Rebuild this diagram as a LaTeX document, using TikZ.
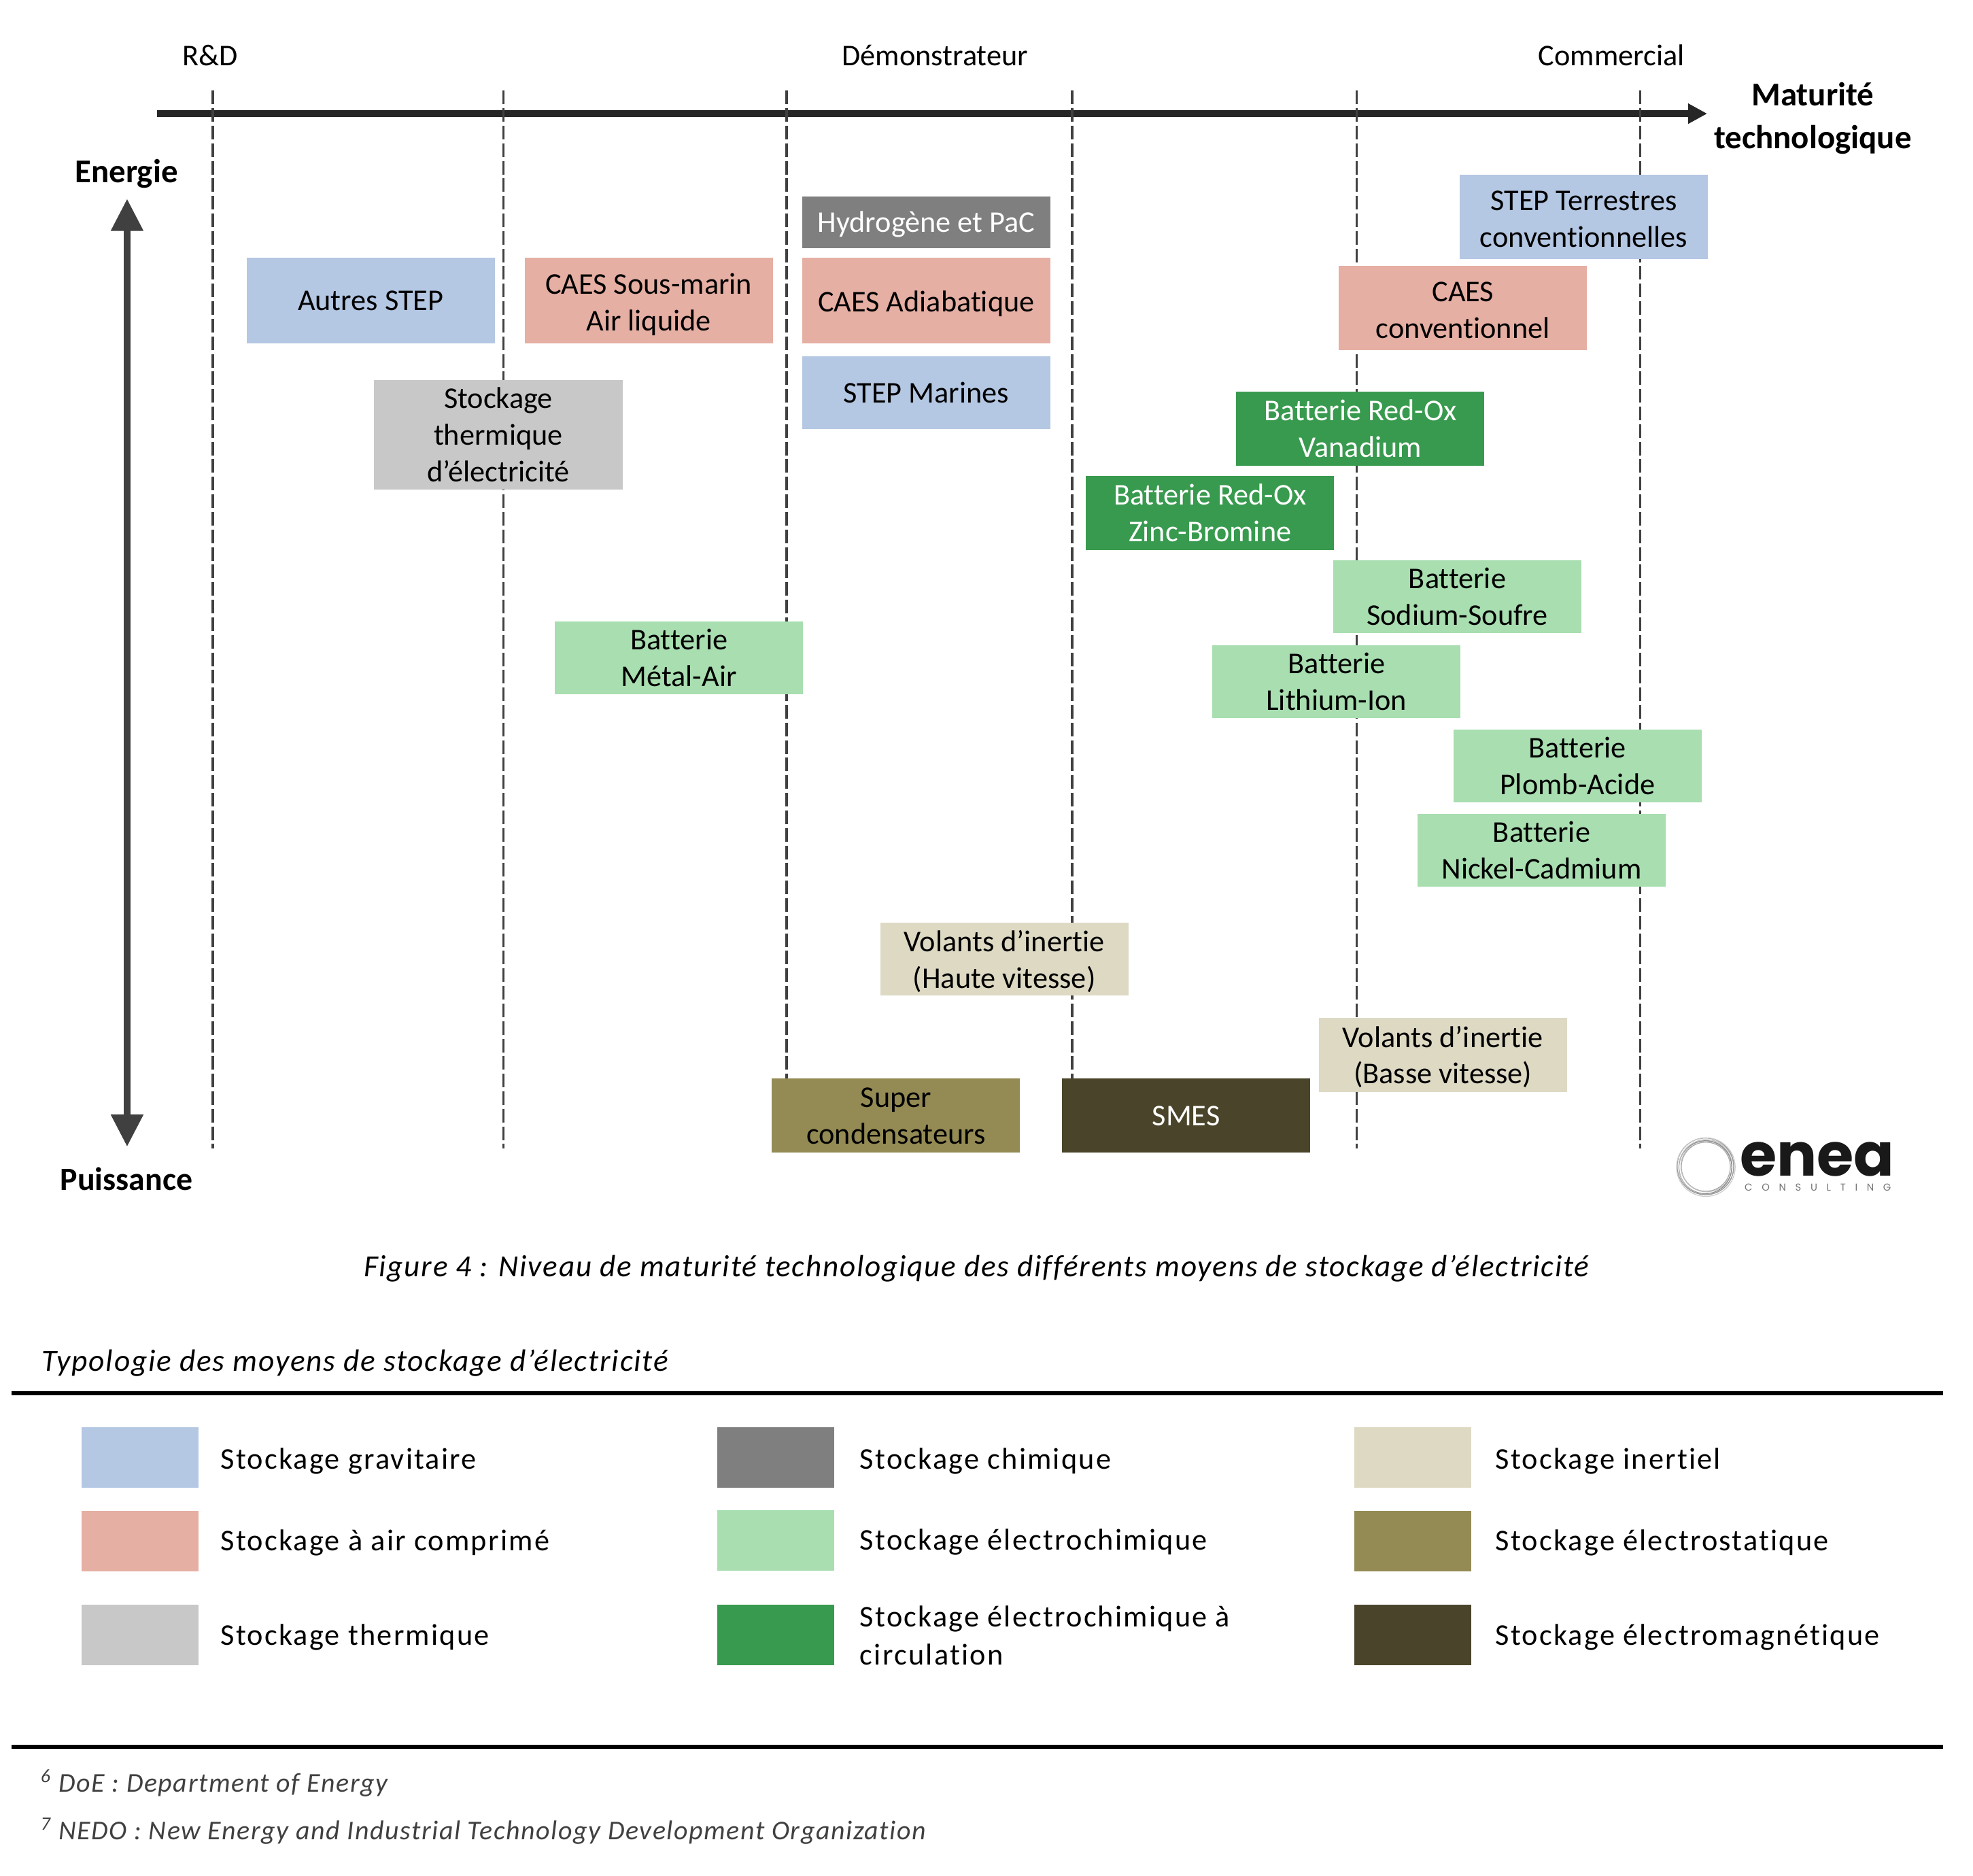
\documentclass[tikz,border=0pt]{standalone}
\usepackage{fontspec}
\setmainfont[RawFeature={-liga;-clig;-calt;-ccmp}]{Carlito}
\newfontfamily\legendfont[LetterSpace=5,RawFeature={-liga;-clig;-calt;-ccmp}]{Carlito}
\newfontfamily\notefont[LetterSpace=4,RawFeature={-liga;-clig;-calt;-ccmp}]{Carlito}
\newfontfamily\logofont{Poppins}
\usetikzlibrary{arrows.meta, positioning}

\definecolor{gravcol}{HTML}{B4C7E3}
\definecolor{aircol}{HTML}{E6AFA3}
\definecolor{thermcol}{HTML}{C8C8C8}
\definecolor{chemcol}{HTML}{7F7F7F}
\definecolor{elchcol}{HTML}{A8DEB0}
\definecolor{flowcol}{HTML}{389A4E}
\definecolor{inertcol}{HTML}{DDD9C3}
\definecolor{staticcol}{HTML}{948A54}
\definecolor{magncol}{HTML}{4A452A}

\newcommand{\lk}{\kern3.9pt}

\tikzset{
	techbox/.style={minimum width=3.65cm, inner sep=0pt, align=center, font=\fontsize{12.6}{15.3}\selectfont},
	textdrop/.style={execute at begin node={\rule{0pt}{#1}}},
	swatch/.style={minimum width=1.72cm, minimum height=.89cm, inner sep=0pt},
	legendtext/.style={anchor=west, inner sep=0pt, align=left, font=\legendfont\fontsize{12.6}{16}\selectfont},
	headtext/.style={font=\fontsize{12.6}{15.3}\selectfont, inner sep=0pt},
	axistext/.style={font=\fontsize{13.9}{17.8}\selectfont\bfseries, align=center, inner sep=0pt},
	notetext/.style={anchor=west, inner sep=0pt, text=black!75, font=\notefont\fontsize{11.35}{14}\selectfont\itshape},
	maturity/.style={dash pattern=on 5.69pt off 1.656pt, line width=1pt, color=black!75},
}

\begin{document}
\begin{tikzpicture}[x=0.01851cm, y=-0.01851cm]
	\useasboundingbox (0,0) rectangle (1567.8,1490.5);

	% Axes
	\coordinate (matstart) at (125,90.3);
	\coordinate (matend) at (1356.6,90.3);
	\coordinate (powtop) at (101,158);
	\coordinate (powbot) at (101,911);
	\draw[-{Triangle[length=8pt,width=8pt]}, line width=2.85pt, color=black!85] (matstart) -- (matend);
	\draw[{Triangle[length=13.4pt,width=13pt]}-{Triangle[length=13.4pt,width=13pt]}, line width=2.6pt, color=black!75] (powtop) -- (powbot);

	% Dashed columns
	\foreach \i/\xpos in {a/169, b/400, c/625, d/852, e/1078, f/1303.4} {
		\coordinate (top\i) at (\xpos,72);
		\coordinate (bot\i) at (\xpos,912.5);
		\draw[maturity] (top\i) -- (bot\i);
	}

	% Axis labels
	\node[headtext] (rd) at (167,44) {R\&D};
	\node[headtext] (demo) at (743,44) {Démonstrateur};
	\node[headtext] (comm) at (1280.5,44) {Commercial};
	\node[axistext] (matur) at (1440.5,94) {Maturité\\technologique};
	\node[axistext] (energie) at (100.5,138) {Energie};
	\node[axistext, font=\fontsize{13.6}{17.8}\selectfont\bfseries] (puissance) at (100.5,937) {Puissance};

	% Technologies
	\node[techbox, fill=gravcol, minimum height=1.24cm, textdrop=25.4pt] (stepterr) at (1258.5,172.5) {STEP Terrestres\\conventionnelles};
	\node[techbox, fill=chemcol, text=white, minimum height=.76cm, textdrop=10.5pt] (hydro) at (736,176.5) {Hydrogène et PaC};
	\node[techbox, fill=gravcol, minimum height=1.26cm] (autres) at (294.5,239) {Autres STEP};
	\node[techbox, fill=aircol, minimum height=1.26cm, textdrop=27pt] (caessous) at (515.5,239) {CAES Sous-marin\\Air liquide};
	\node[techbox, fill=aircol, minimum height=1.26cm, textdrop=11pt] (caesadia) at (736,239) {CAES Adiabatique};
	\node[techbox, fill=gravcol, minimum height=1.07cm] (stepmar) at (736,312) {STEP Marines};
	\node[techbox, fill=aircol, minimum height=1.24cm, textdrop=25.5pt] (caesconv) at (1162.5,244.5) {CAES\\conventionnel};
	\node[techbox, fill=thermcol, minimum height=1.61cm] (thermique) at (396,345.5) {Stockage\\thermique\\d’électricité};
	\node[techbox, fill=flowcol, text=white, minimum height=1.09cm] (vanadium) at (1081,340.5) {Batterie Red-Ox\\Vanadium};
	\node[techbox, fill=flowcol, text=white, minimum height=1.09cm] (zinc) at (961.5,407.5) {Batterie Red-Ox\\Zinc-Bromine};
	\node[techbox, fill=elchcol, minimum height=1.07cm] (sodium) at (1158,474) {Batterie\\Sodium-Soufre};
	\node[techbox, fill=elchcol, minimum height=1.07cm] (metal) at (539.5,522.5) {Batterie\\Métal-Air};
	\node[techbox, fill=elchcol, minimum height=1.07cm] (lithium) at (1062,541.5) {Batterie\\Lithium-Ion};
	\node[techbox, fill=elchcol, minimum height=1.07cm] (plomb) at (1253.5,608.5) {Batterie\\Plomb-Acide};
	\node[techbox, fill=elchcol, minimum height=1.07cm] (nickel) at (1225,675.5) {Batterie\\Nickel-Cadmium};
	\node[techbox, fill=inertcol, minimum height=1.07cm, textdrop=26.1pt] (volhaut) at (798,762) {Volants d’inertie\\(Haute vitesse)};
	\node[techbox, fill=inertcol, minimum height=1.09cm, textdrop=26.1pt] (volbas) at (1146.5,838) {Volants d’inertie\\(Basse vitesse)};
	\node[techbox, fill=staticcol, minimum height=1.09cm] (super) at (712,886.5) {Super\\condensateurs};
	\node[techbox, fill=magncol, text=white, minimum height=1.09cm] (smes) at (942.5,886.5) {SMES};

	% Logo
	\foreach \dx/\dy/\rad/\shade in {0/0/19.5/35, .5/-.4/20.3/25, -.4/.4/21/45, .3/.3/21.8/25, -.3/-.3/22.5/40, 0/.3/23.3/20} {
		\draw[black!\shade, line width=.35pt] (1355.5+\dx,927+\dy) circle (\rad*0.01851cm);
	}
	\node[inner sep=0pt, text=black!90, font=\logofont\fontsize{25}{25}\selectfont\bfseries] (enea) at (1444,921) {enea};
	\node[inner sep=0pt, text=black!55, font=\logofont\fontsize{4.2}{5}\selectfont] (consult) at (1444.5,943.5) {C\lk O\lk N\lk S\lk U\lk L\lk T\lk I\lk N\lk G};

	% Caption
	\node[inner sep=0pt, font=\notefont\fontsize{12.85}{16}\selectfont\itshape] (caption) at (776,1008) {Figure 4 : Niveau de maturité technologique des différents moyens de stockage d’électricité};
	\node[legendtext, font=\notefont\fontsize{12.9}{16}\selectfont\itshape] (typo) at (33,1083) {Typologie des moyens de stockage d’électricité};

	% Rules
	\coordinate (ruleAl) at (9,1107);
	\coordinate (ruleAr) at (1544,1107);
	\coordinate (ruleBl) at (9,1388);
	\coordinate (ruleBr) at (1544,1388);
	\draw[line width=1.7pt] (ruleAl) -- (ruleAr);
	\draw[line width=1.7pt] (ruleBl) -- (ruleBr);

	% Legend
	\node[swatch, fill=gravcol] (swgrav) at (111.5,1158) {};
	\node[swatch, fill=aircol] (swair) at (111.5,1224.5) {};
	\node[swatch, fill=thermcol] (swtherm) at (111.5,1299) {};
	\node[swatch, fill=chemcol] (swchem) at (616.5,1158) {};
	\node[swatch, fill=elchcol] (swelch) at (616.5,1224) {};
	\node[swatch, fill=flowcol] (swflow) at (616.5,1299) {};
	\node[swatch, fill=inertcol] (swinert) at (1122.5,1158) {};
	\node[swatch, fill=staticcol] (swstatic) at (1122.5,1224.5) {};
	\node[swatch, fill=magncol] (swmagn) at (1122.5,1299) {};

	\node[legendtext] (lbgrav) at (175,1161) {Stockage gravitaire};
	\node[legendtext] (lbair) at (175,1226) {Stockage à air comprimé};
	\node[legendtext] (lbtherm) at (175,1301) {Stockage thermique};
	\node[legendtext] (lbchem) at (683,1161) {Stockage chimique};
	\node[legendtext] (lbelch) at (683,1225) {Stockage électrochimique};
	\node[legendtext] (lbflow) at (683,1299.5) {Stockage électrochimique à\\circulation};
	\node[legendtext] (lbinert) at (1188,1161) {Stockage inertiel};
	\node[legendtext] (lbstatic) at (1188,1226) {Stockage électrostatique};
	\node[legendtext] (lbmagn) at (1188,1301) {Stockage électromagnétique};

	% Footnotes
	\node[notetext] (notedoe) at (32,1417) {\textsuperscript{6} DoE : Department of Energy};
	\node[notetext] (notenedo) at (32,1455) {\textsuperscript{7} NEDO : New Energy and Industrial Technology Development Organization};
\end{tikzpicture}
\end{document}
